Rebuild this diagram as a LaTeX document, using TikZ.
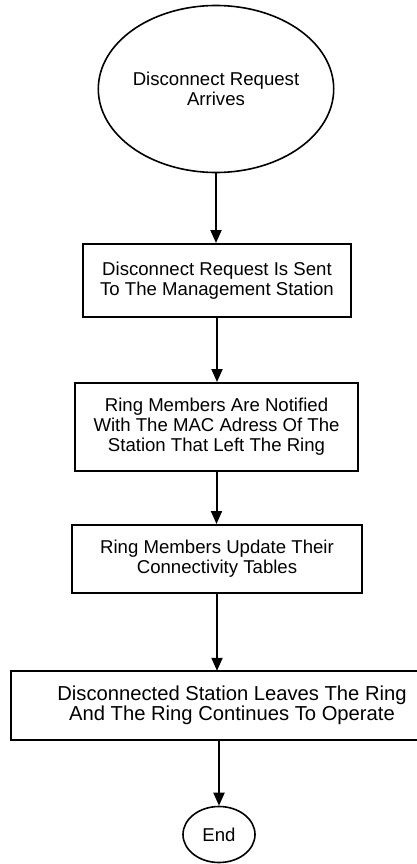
\documentclass[tikz,border=0pt]{standalone}
\usepackage{fontspec}
\setmainfont{Liberation Sans}
\usetikzlibrary{arrows.meta,shapes.geometric}
\begin{document}
\begin{tikzpicture}[x=1pt,y=-1pt,
  every node/.style={font=\fontsize{18.6}{20}\selectfont, align=center, inner sep=0pt},
  stepbox/.style={draw, line width=2pt, rectangle},
  terminal/.style={draw, line width=1.6pt, ellipse},
  flow/.style={draw, line width=2pt, -{Triangle[length=13pt,width=11pt]}}
]
  % page frame; the last box runs past the right edge
  \useasboundingbox (0,0) rectangle (417,864);
  \clip (0,0) rectangle (417,864);
  \fill[white] (0,0) rectangle (417,864);

  \node[terminal, minimum width=205pt, minimum height=167pt] (start) at (216,89)
    {Disconnect Request\\Arrives};
  \node[stepbox, minimum width=268pt, minimum height=73pt] (send) at (217,280.5)
    {Disconnect Request Is Sent\\To The Management Station};
  \node[stepbox, minimum width=283pt, minimum height=88pt] (notify) at (216.5,427)
    {Ring Members Are Notified\\With The MAC Adress Of The\\Station That Left The Ring};
  \node[stepbox, minimum width=290pt, minimum height=68pt] (update) at (217,559)
    {Ring Members Update Their\\Connectivity Tables};
  % wide box: only its left, top and bottom sides fall on the page
  \node[rectangle, minimum width=442pt, minimum height=69pt,
        font=\fontsize{20.2}{20}\selectfont] (leave) at (232,705.5)
    {Disconnected Station Leaves The Ring\\And The Ring Continues To Operate};
  \draw[line width=2pt] (leave.north east) -- (leave.north west)
    -- (leave.south west) -- (leave.south east);
  \node[terminal, minimum width=72pt, minimum height=56pt] (stop) at (219,834.5)
    {End};

  \draw[flow] (start.south) -- (start.south |- send.north);
  \draw[flow] (send.south) -- (send.south |- notify.north);
  \draw[flow] (notify.south) -- (notify.south |- update.north);
  \draw[flow] (update.south) -- (update.south |- leave.north);
  \draw[flow] (stop.north |- leave.south) -- (stop.north);
\end{tikzpicture}
\end{document}
